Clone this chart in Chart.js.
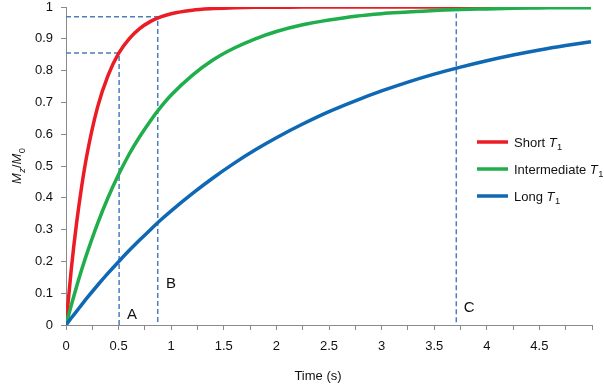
<!DOCTYPE html>
<html>
<head>
<meta charset="utf-8">
<script src="https://cdn.jsdelivr.net/npm/chart.js@4.4.1/dist/chart.umd.min.js"></script>
<style>
  html, body { margin: 0; padding: 0; background: #fff; }
  #wrap { width: 604px; height: 384px; }
</style>
</head>
<body>
<div id="wrap"><canvas id="t1Chart" width="604" height="384"></canvas></div>
<script>
// Time axis (s) and Mz/M0
const times = [0, 0.05, 0.1, 0.15, 0.2, 0.3, 0.4, 0.5, 0.6, 0.7, 0.8, 0.9, 1.0,
  1.2, 1.4, 1.6, 1.8, 2.0, 2.25, 2.5, 2.75, 3.0, 3.25, 3.5, 3.75, 4.0, 4.25, 4.5, 4.75, 4.99];
const shortT1 = [0, 0.175, 0.319, 0.438, 0.537, 0.685, 0.785, 0.854, 0.900, 0.932, 0.954, 0.969, 0.979,
  0.990, 0.995, 0.998, 0.999, 0.999, 1, 1, 1, 1, 1, 1, 1, 1, 1, 1, 1, 1];
const intermediateT1 = [0, 0.062, 0.120, 0.175, 0.226, 0.319, 0.401, 0.473, 0.537, 0.592, 0.641, 0.685, 0.723,
  0.785, 0.834, 0.871, 0.900, 0.923, 0.944, 0.959, 0.971, 0.979, 0.984, 0.989, 0.992, 0.994, 0.996, 0.997, 0.998, 0.998];
const longT1 = [0, 0.022, 0.043, 0.064, 0.085, 0.125, 0.163, 0.199, 0.234, 0.267, 0.299, 0.330, 0.359,
  0.413, 0.463, 0.509, 0.551, 0.589, 0.632, 0.671, 0.705, 0.736, 0.764, 0.789, 0.811, 0.831, 0.849, 0.865, 0.879, 0.891];
const seriesNames = ['Short', 'Intermediate', 'Long'];

// Dashed guide lines A, B, C
const markerNames = ['A', 'B', 'C'];
const markerTimes = [0.505, 0.872, 3.71];
const markerLevels = [0.855, 0.969, 0.98];
const markerFromAxis = [true, true, false];

const xTickLabels = ['0', '0.5', '1', '1.5', '2', '2.5', '3', '3.5', '4', '4.5'];
const yTickLabels = ['0', '0.1', '0.2', '0.3', '0.4', '0.5', '0.6', '0.7', '0.8', '0.9', '1'];

const curveColors = ['#ec1c24', '#1fae4b', '#0f68b4'];
const axisColor = '#8a8a8a';
const font = "'Liberation Sans', Arial, sans-serif";

const curveSets = [shortT1, intermediateT1, longT1].map((vals, i) => ({
  label: seriesNames[i],
  data: times.map((t, j) => ({ x: t, y: vals[j] })),
  borderColor: curveColors[i],
  borderWidth: 3.5,
  pointRadius: 0,
  cubicInterpolationMode: 'monotone',
  fill: false,
  order: 3 - i
}));

const guideSets = markerNames.map((name, i) => {
  const pts = [];
  if (markerFromAxis[i]) pts.push({ x: 0, y: markerLevels[i] });
  pts.push({ x: markerTimes[i], y: markerLevels[i] });
  pts.push({ x: markerTimes[i], y: 0 });
  return {
    label: 'guide ' + name,
    data: pts,
    borderColor: '#4a7ebf',
    borderWidth: 1.5,
    borderDash: [5, 3],
    pointRadius: 0,
    tension: 0,
    fill: false,
    order: 10
  };
});

// draws text pieces with italic / subscript parts, returns width
function richText(ctx, parts, x, y, size, measureOnly) {
  let w = 0;
  parts.forEach(p => {
    const fs = p.sub ? size * 0.72 : size;
    ctx.font = (p.it ? 'italic ' : '') + fs + 'px ' + font;
    if (!measureOnly) ctx.fillText(p.t, x + w, y + (p.sub ? size * 0.3 : 0));
    w += ctx.measureText(p.t).width + (p.it && !p.sub ? 0.5 : 0);
  });
  return w;
}

const annotate = {
  id: 'annotate',
  afterDraw(chart) {
    const { ctx, scales: { x, y } } = chart;
    ctx.save();
    ctx.fillStyle = '#111';
    ctx.textBaseline = 'alphabetic';

    // marker letters
    const letterPos = [[0.58, 0.02], [0.95, 0.115], [3.78, 0.04]];
    ctx.font = '15px ' + font;
    ctx.textAlign = 'left';
    markerNames.forEach((n, i) => {
      ctx.fillText(n, x.getPixelForValue(letterPos[i][0]), y.getPixelForValue(letterPos[i][1]));
    });

    // legend
    seriesNames.forEach((n, i) => {
      const ly = 142 + 27 * i;
      ctx.strokeStyle = curveColors[i];
      ctx.lineWidth = 3.5;
      ctx.beginPath();
      ctx.moveTo(477, ly);
      ctx.lineTo(508, ly);
      ctx.stroke();
      richText(ctx, [{ t: n + ' ' }, { t: 'T', it: true }, { t: '1', sub: true }], 514, ly + 4.5, 13);
    });

    // x title
    ctx.font = '13px ' + font;
    ctx.textAlign = 'center';
    ctx.fillText('Time (s)', 318, 380);

    // y title
    ctx.textAlign = 'left';
    const yParts = [{ t: 'M', it: true }, { t: 'z', it: true, sub: true }, { t: '/' },
      { t: 'M', it: true }, { t: '0', sub: true }];
    ctx.translate(21, 166);
    ctx.rotate(-Math.PI / 2);
    const w = richText(ctx, yParts, 0, 0, 13, true);
    richText(ctx, yParts, -w / 2, 0, 13);
    ctx.restore();
  }
};

const chart = new Chart(document.getElementById('t1Chart').getContext('2d'), {
  type: 'line',
  data: { datasets: [...curveSets, ...guideSets] },
  plugins: [annotate],
  options: {
    responsive: false,
    devicePixelRatio: 1,
    animation: false,
    layout: { padding: { top: 7, right: 12, left: 0, bottom: 0 } },
    plugins: { legend: { display: false }, tooltip: { enabled: false } },
    scales: {
      x: {
        type: 'linear',
        min: 0,
        max: 5,
        afterFit: s => { s.height = 59; s.paddingLeft = 0; s.paddingRight = 0; },
        ticks: {
          stepSize: 0.25,
          autoSkip: false,
          maxRotation: 0,
          padding: 9,
          color: '#111',
          font: { family: font, size: 13 },
          callback: v => {
            const s = String(Math.round(v * 100) / 100);
            return xTickLabels.includes(s) ? s : '';
          }
        },
        grid: { drawOnChartArea: false, tickLength: 5, color: axisColor },
        border: { color: axisColor, width: 1 }
      },
      y: {
        min: 0,
        max: 1,
        afterFit: s => { s.width = 66; s.paddingTop = 0; s.paddingBottom = 0; },
        ticks: {
          stepSize: 0.1,
          padding: 8,
          color: '#111',
          font: { family: font, size: 13 },
          callback: v => {
            const s = String(Math.round(v * 10) / 10);
            return yTickLabels.includes(s) ? s : '';
          }
        },
        grid: { drawOnChartArea: false, tickLength: 5, color: axisColor },
        border: { color: axisColor, width: 1 }
      }
    }
  }
});
</script>
</body>
</html>
